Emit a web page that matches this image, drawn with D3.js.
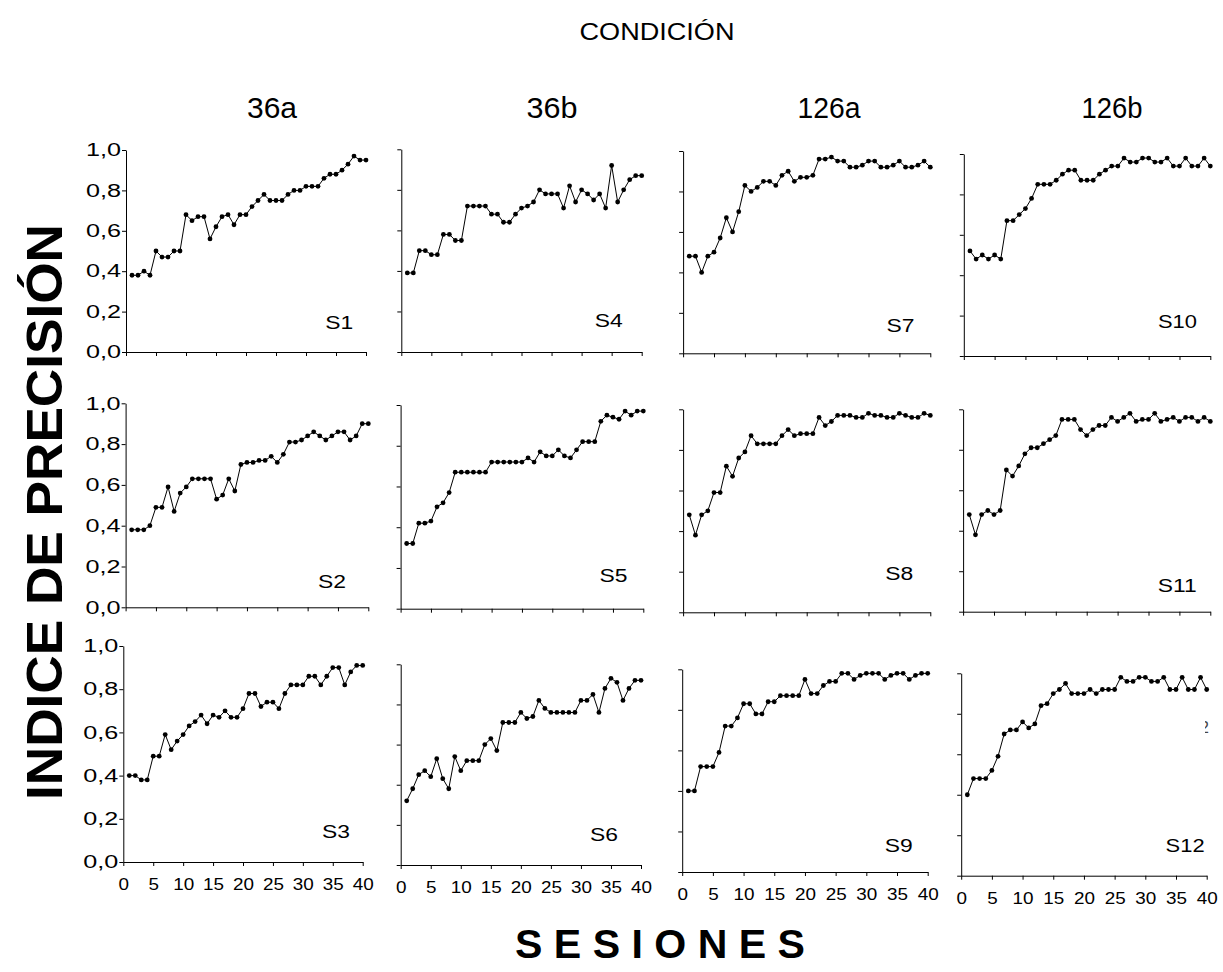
<!DOCTYPE html>
<html>
<head>
<meta charset="utf-8">
<script src="https://d3js.org/d3.v7.min.js"></script>
<style>
body{margin:0;background:#fff;}
text{font-family:"Liberation Sans",Arial,sans-serif;fill:#000;}
.axis path,.axis line{stroke:#000;stroke-width:1;}
</style>
</head>
<body>
<script>
// sesiones 1..40
var sessions = d3.range(1, 41);

var s1  = [0.38,0.38,0.40,0.38,0.50,0.47,0.47,0.50,0.50,0.68,0.65,0.67,0.67,0.56,0.62,0.67,0.68,0.63,0.68,0.68,0.72,0.75,0.78,0.75,0.75,0.75,0.78,0.80,0.80,0.82,0.82,0.82,0.86,0.88,0.88,0.90,0.93,0.97,0.95,0.95];
var s2  = [0.38,0.38,0.38,0.40,0.49,0.49,0.59,0.47,0.56,0.59,0.63,0.63,0.63,0.63,0.53,0.55,0.63,0.57,0.70,0.71,0.71,0.72,0.72,0.74,0.71,0.75,0.81,0.81,0.82,0.84,0.86,0.84,0.82,0.84,0.86,0.86,0.82,0.84,0.90,0.90];
var s3  = [0.40,0.40,0.38,0.38,0.49,0.49,0.59,0.52,0.56,0.59,0.63,0.65,0.68,0.64,0.68,0.67,0.70,0.67,0.67,0.71,0.78,0.78,0.72,0.74,0.74,0.71,0.78,0.82,0.82,0.82,0.86,0.86,0.82,0.86,0.90,0.90,0.82,0.88,0.91,0.91];
var s4  = [0.39,0.39,0.50,0.50,0.48,0.48,0.58,0.58,0.55,0.55,0.72,0.72,0.72,0.72,0.68,0.68,0.64,0.64,0.68,0.71,0.72,0.74,0.80,0.78,0.78,0.78,0.71,0.82,0.74,0.80,0.78,0.75,0.78,0.71,0.92,0.74,0.80,0.85,0.87,0.87];
var s5  = [0.32,0.32,0.42,0.42,0.43,0.50,0.52,0.57,0.67,0.67,0.67,0.67,0.67,0.67,0.72,0.72,0.72,0.72,0.72,0.72,0.74,0.72,0.77,0.75,0.75,0.78,0.75,0.74,0.78,0.82,0.82,0.82,0.92,0.95,0.94,0.93,0.97,0.95,0.97,0.97];
var s6  = [0.32,0.38,0.45,0.47,0.44,0.53,0.43,0.38,0.54,0.47,0.52,0.52,0.52,0.60,0.63,0.57,0.71,0.71,0.71,0.76,0.73,0.74,0.82,0.78,0.76,0.76,0.76,0.76,0.76,0.82,0.82,0.85,0.76,0.88,0.93,0.91,0.82,0.88,0.92,0.92];
var s7  = [0.48,0.48,0.40,0.48,0.50,0.57,0.67,0.60,0.70,0.83,0.80,0.82,0.85,0.85,0.83,0.88,0.90,0.85,0.87,0.87,0.88,0.96,0.96,0.97,0.95,0.95,0.92,0.92,0.93,0.95,0.95,0.92,0.92,0.93,0.95,0.92,0.92,0.93,0.95,0.92];
var s8  = [0.48,0.38,0.48,0.50,0.59,0.59,0.72,0.67,0.76,0.79,0.87,0.83,0.83,0.83,0.83,0.87,0.90,0.87,0.88,0.88,0.88,0.96,0.92,0.94,0.97,0.97,0.97,0.96,0.96,0.98,0.97,0.97,0.96,0.96,0.98,0.97,0.96,0.96,0.98,0.97];
var s9  = [0.40,0.40,0.52,0.52,0.52,0.59,0.72,0.72,0.76,0.83,0.83,0.78,0.78,0.84,0.84,0.87,0.87,0.87,0.87,0.95,0.88,0.88,0.92,0.94,0.94,0.98,0.98,0.95,0.97,0.98,0.98,0.98,0.95,0.97,0.98,0.98,0.95,0.97,0.98,0.98];
var s10 = [0.52,0.48,0.50,0.48,0.50,0.48,0.67,0.67,0.70,0.73,0.78,0.85,0.85,0.85,0.87,0.90,0.92,0.92,0.87,0.87,0.87,0.90,0.92,0.94,0.94,0.98,0.96,0.96,0.98,0.98,0.96,0.96,0.98,0.94,0.94,0.98,0.94,0.94,0.98,0.94];
var s11 = [0.48,0.38,0.48,0.50,0.48,0.50,0.70,0.67,0.72,0.78,0.81,0.81,0.83,0.85,0.87,0.95,0.95,0.95,0.90,0.87,0.90,0.92,0.92,0.96,0.94,0.96,0.98,0.94,0.95,0.95,0.98,0.94,0.95,0.96,0.94,0.96,0.96,0.94,0.96,0.94];
var s12 = [0.40,0.48,0.48,0.48,0.52,0.59,0.70,0.72,0.72,0.76,0.73,0.75,0.84,0.85,0.90,0.92,0.95,0.90,0.90,0.90,0.92,0.90,0.92,0.92,0.92,0.98,0.96,0.96,0.98,0.98,0.96,0.96,0.98,0.92,0.92,0.98,0.92,0.92,0.98,0.92];

var conditions = ["36a", "36b", "126a", "126b"];
var subjects = [["S1","S2","S3"], ["S4","S5","S6"], ["S7","S8","S9"], ["S10","S11","S12"]];
var series = {S1:s1, S2:s2, S3:s3, S4:s4, S5:s5, S6:s6, S7:s7, S8:s8, S9:s9, S10:s10, S11:s11, S12:s12};
var xTicks = [0, 5, 10, 15, 20, 25, 30, 35, 40];
var yTicks = [0, 0.2, 0.4, 0.6, 0.8, 1.0];

// panel placement: x range (sesion 0..40), y range (0..1), label anchor in data units
var layout = {
  S1:  {x:[126,366],     y:[352,150],   lab:[33.2,0.114]},
  S4:  {x:[401.3,641.7], y:[352,149.3], lab:[32.2,0.125]},
  S7:  {x:[683.1,930.3], y:[353.3,151], lab:[32.9,0.107]},
  S10: {x:[963.8,1210.3],y:[356,154],   lab:[31.5,0.137]},
  S2:  {x:[125.6,368.3], y:[607.3,403.3],lab:[31.7,0.093]},
  S5:  {x:[400.6,643.3], y:[608.7,405], lab:[32.8,0.13]},
  S8:  {x:[683.1,930.3], y:[612.3,409.3],lab:[32.7,0.159]},
  S11: {x:[963.1,1210.3],y:[611.7,409.3],lab:[31.5,0.096]},
  S3:  {x:[123.3,362.7], y:[862,646],   lab:[33.2,0.11]},
  S6:  {x:[400.7,641],   y:[865,664.3], lab:[31.5,0.121]},
  S9:  {x:[682.2,927.7], y:[872,669.3], lab:[33.0,0.10]},
  S12: {x:[961.2,1206.7],y:[875.7,673.3],lab:[33.3,0.119]}
};

var W = 1223, H = 972;
var svg = d3.select("body").append("svg")
  .attr("width", W).attr("height", H);

var fmt = function(d){ return d3.format(".1f")(d).replace(".", ","); };

subjects.forEach(function(colSubs, col){
  colSubs.forEach(function(name, row){
    var p = layout[name];
    var vals = series[name];
    var xs = d3.scaleLinear().domain([0,40]).range(p.x);
    var ys = d3.scaleLinear().domain([0,1]).range(p.y);
    var g = svg.append("g");

    var xa = d3.axisBottom(xs).tickValues(xTicks).tickSize(4).tickSizeOuter(0).tickPadding(12);
    if (row < 2) xa.tickFormat("");
    var gx = g.append("g").attr("class","axis")
      .attr("transform","translate(0,"+p.y[0]+")").call(xa);
    gx.selectAll("text")
      .style("font-size","17px").style("font-family","Liberation Sans, Arial, sans-serif")
      .attr("textLength", function(d){ return String(d).length*10.5; })
      .attr("lengthAdjust","spacingAndGlyphs");

    var ya = d3.axisLeft(ys).tickValues(yTicks).tickSize(4).tickSizeOuter(0).tickPadding(1)
      .tickFormat(col == 0 ? fmt : "");
    var gy = g.append("g").attr("class","axis")
      .attr("transform","translate("+p.x[0]+",0)").call(ya);
    gy.selectAll("text")
      .style("font-size","18px").style("font-family","Liberation Sans, Arial, sans-serif")
      .attr("textLength", 35).attr("lengthAdjust","spacingAndGlyphs");

    var line = d3.line()
      .x(function(d,i){ return xs(sessions[i]); })
      .y(function(d){ return ys(d); });

    g.append("path").attr("d", line(vals))
      .attr("fill","none").attr("stroke","#000").attr("stroke-width",1);

    g.selectAll("circle").data(vals).enter().append("circle")
      .attr("cx", function(d,i){ return xs(sessions[i]); })
      .attr("cy", function(d){ return ys(d); })
      .attr("r", 2.4).attr("fill","#000");

    g.append("text")
      .attr("x", xs(p.lab[0])).attr("y", ys(p.lab[1]))
      .attr("textLength", name.length == 2 ? 28 : 39)
      .attr("lengthAdjust","spacingAndGlyphs")
      .style("font-size","18px")
      .text(name);
  });
});

// stray clipped glyph visible at the right edge of the S12 panel
svg.append("clipPath").attr("id","edgeclip")
  .append("rect").attr("x",1205).attr("y",715).attr("width",8).attr("height",22);
svg.append("text")
  .attr("clip-path","url(#edgeclip)")
  .attr("x",1200).attr("y",733)
  .style("font-size","16px").style("fill","#444")
  .text("2");

// condition titles
var colCenters = [272, 552, 829, 1112];
var colWidths = [50, 51, 63, 61];
svg.selectAll(".cond").data(conditions).enter().append("text")
  .attr("class","cond")
  .attr("x", function(d,i){ return colCenters[i]; })
  .attr("y", 118)
  .attr("text-anchor","middle")
  .attr("textLength", function(d,i){ return colWidths[i]; })
  .attr("lengthAdjust","spacingAndGlyphs")
  .style("font-size","30px")
  .text(function(d){ return d; });

svg.append("text")
  .attr("x", 657).attr("y", 40)
  .attr("text-anchor","middle")
  .attr("textLength", 155).attr("lengthAdjust","spacingAndGlyphs")
  .style("font-size","24px")
  .text("CONDICIÓN");

svg.append("text")
  .attr("transform","translate(62,512) rotate(-90)")
  .attr("text-anchor","middle")
  .attr("textLength", 576).attr("lengthAdjust","spacingAndGlyphs")
  .style("font-size","50px").style("font-weight","bold")
  .text("INDICE DE PRECISIÓN");

svg.append("text")
  .attr("x", 660).attr("y", 958)
  .attr("text-anchor","middle")
  .attr("textLength", 290).attr("lengthAdjust","spacingAndGlyphs")
  .style("font-size","40px").style("font-weight","bold")
  .text("S E S I O N E S");
</script>
</body>
</html>
